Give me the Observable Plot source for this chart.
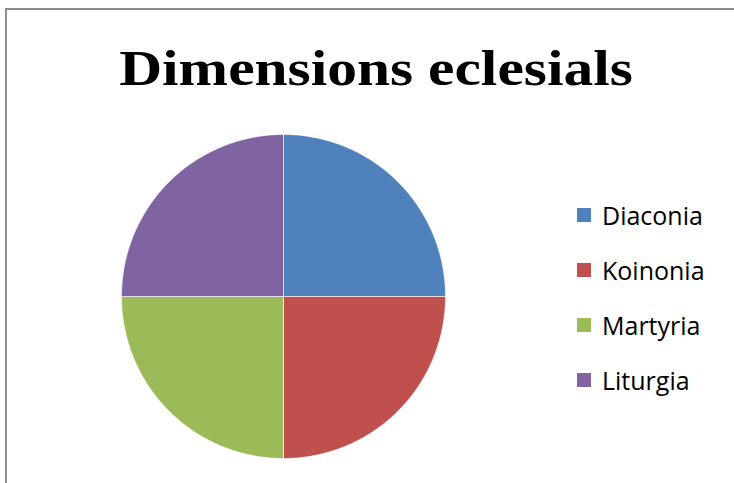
<!DOCTYPE html>
<html>
<head>
<meta charset="utf-8">
<script src="https://cdn.jsdelivr.net/npm/d3@7"></script>
<script src="https://cdn.jsdelivr.net/npm/@observablehq/plot@0.6"></script>
<style>
  html, body { margin: 0; padding: 0; background: #fff; }
  #wrap { position: relative; width: 734px; height: 483px; overflow: hidden; background: #fff; }
  #frame { position: absolute; left: 5px; top: 8px; width: 800px; height: 600px;
           border-left: 2px solid #8c8c8c; border-top: 2px solid #8c8c8c; }
  #title { position: absolute; left: 0; width: 752px; top: 33px; text-align: center;
           font-family: "Liberation Serif", "DejaVu Serif", serif; font-weight: bold;
           font-size: 51px; line-height: 70px; color: #000; white-space: nowrap;
           transform: scaleX(1.166); transform-origin: 376px 0; }
  #chart { position: absolute; left: 0; top: 110px; }
  #legend { position: absolute; left: 577px; top: 187px; font-family: "Open Sans", Lato, sans-serif;
            font-size: 25px; color: #000; }
  .item { height: 55px; display: flex; align-items: center; position: relative; }
  .sw { width: 14px; height: 14px; margin-right: 11px; }
</style>
</head>
<body>
<div id="wrap">
  <div id="frame"></div>
  <div id="title">Dimensions eclesials</div>
  <div id="chart"></div>
  <div id="legend"></div>
</div>
<script>
const title = "Dimensions eclesials";
const categories = ["Diaconia", "Koinonia", "Martyria", "Liturgia"];
const values = [25, 25, 25, 25];
const colors = ["#4F81BD", "#C0504D", "#9BBB59", "#8064A2"];

// slice outlines built from the data via d3.pie (angles clockwise from 12 o'clock)
const pie = d3.pie().sort(null).value(d => d.value)(categories.map((c, i) => ({category: c, value: values[i]})));
const pts = [];
for (const s of pie) {
  const n = Math.max(2, Math.ceil((s.endAngle - s.startAngle) / (Math.PI / 180)));
  pts.push({category: s.data.category, x: 0, y: 0});
  for (let j = 0; j <= n; j++) {
    const a = s.startAngle + (s.endAngle - s.startAngle) * j / n;
    pts.push({category: s.data.category, x: Math.sin(a), y: Math.cos(a)});
  }
  pts.push({category: s.data.category, x: 0, y: 0});
}

const cx = 283, cy = 186, r = 162;
const chart = Plot.plot({
  width: 734,
  height: 373,
  margin: 0,
  x: {domain: [-1, 1], range: [cx - r, cx + r], axis: null},
  y: {domain: [-1, 1], range: [cy + r, cy - r], axis: null},
  color: {domain: categories, range: colors},
  marks: [
    Plot.line(pts, {x: "x", y: "y", z: "category", fill: "category", stroke: "white", strokeWidth: 0.6, curve: "linear"})
  ]
});
document.getElementById("chart").appendChild(chart);

const cs = chart.scale("color");
const leg = document.getElementById("legend");
cs.domain.forEach((c, i) => {
  const it = document.createElement("div");
  it.className = "item";
  const sw = document.createElement("div");
  sw.className = "sw";
  sw.style.background = cs.range[i];
  const t = document.createElement("span");
  t.textContent = c;
  it.appendChild(sw); it.appendChild(t);
  leg.appendChild(it);
});
document.getElementById("title").textContent = title;
</script>
</body>
</html>
